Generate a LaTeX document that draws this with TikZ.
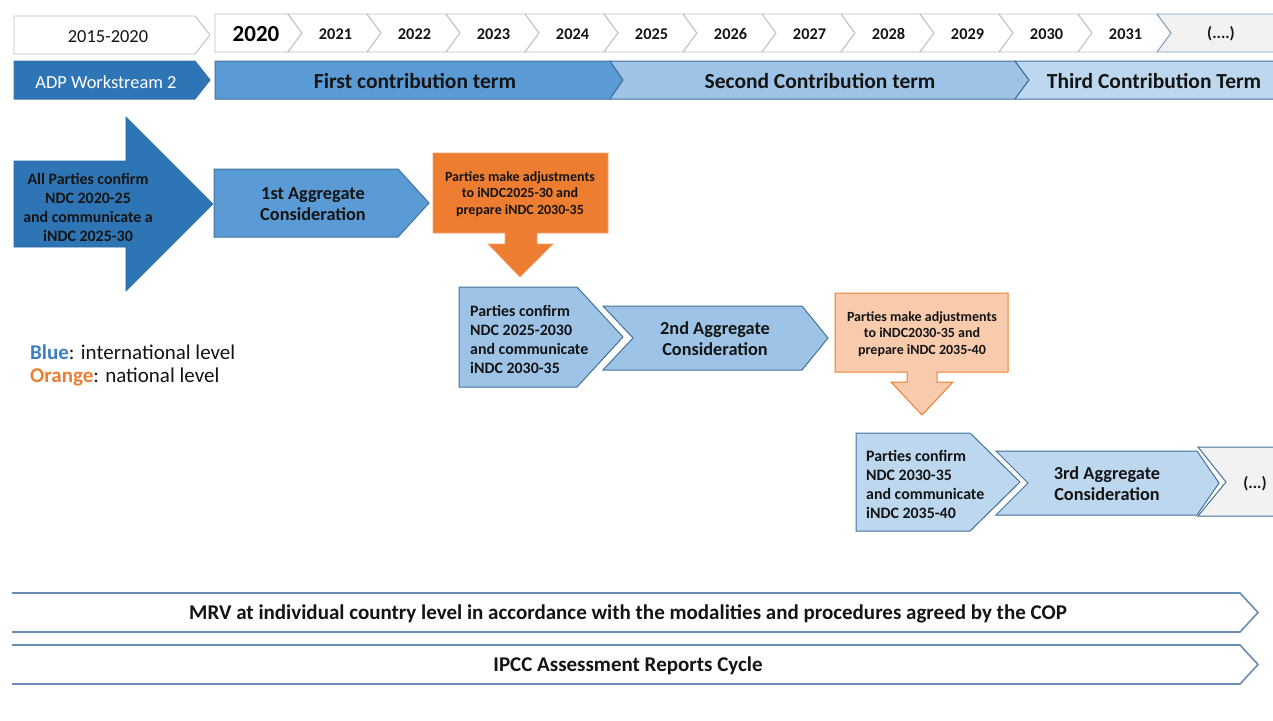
\documentclass[tikz,border=0pt]{standalone}
\usepackage{fontspec}
\setmainfont{Carlito}
\definecolor{dblue}{HTML}{2E75B6}
\definecolor{mblue}{HTML}{5B9BD5}
\definecolor{lblue}{HTML}{9DC3E6}
\definecolor{pblue}{HTML}{BDD7EE}
\definecolor{bline}{HTML}{41719C}
\definecolor{orng}{HTML}{ED7D31}
\definecolor{lorng}{HTML}{F8CBAD}
\definecolor{ygray}{HTML}{BFBFBF}
\definecolor{gfill}{HTML}{F2F2F2}
\definecolor{barline}{HTML}{6A8DB5}
\definecolor{txt}{HTML}{141414}
\definecolor{legblue}{HTML}{3B7EC4}
\tikzset{
  yr/.style={draw=ygray, fill=white, line width=0.9pt, line join=miter},
  yrtxt/.style={font=\fontsize{16.3}{18}\selectfont\bfseries, text=txt, inner sep=0pt},
  term/.style={draw=bline, line width=1pt},
  termtxt/.style={font=\fontsize{21.5}{24}\selectfont\bfseries, text=txt, inner sep=0pt},
  agg/.style={draw=bline, line width=1pt},
  aggtxt/.style={font=\fontsize{18.3}{21}\selectfont\bfseries, text=txt, inner sep=0pt, align=center},
  conf/.style={font=\fontsize{15.9}{19}\selectfont\bfseries, text=txt, inner sep=0pt, align=left},
  ortxt/.style={font=\fontsize{14}{16.5}\selectfont\bfseries, text=txt, inner sep=0pt, align=center},
  bar/.style={draw=barline, line width=1.6pt, fill=white},
  bartxt/.style={font=\fontsize{21}{24}\selectfont\bfseries, text=txt, inner sep=0pt},
  legtxt/.style={font=\fontsize{21}{25}\selectfont, text=txt, inner sep=0pt, align=left, anchor=west}
}
\begin{document}
\begin{tikzpicture}[x=1pt,y=-1pt]
\useasboundingbox (0,0) rectangle (1273,720);
\clip (0,0) rectangle (1273,720);
% ---------- year row
\draw[yr] (14,16) -- (195,16) -- (210,35) -- (195,54) -- (14,54) -- cycle;
\node[font=\fontsize{18.4}{20}\selectfont, text=txt, inner sep=0pt] (y1520) at (108,37) {2015-2020};
\draw[yr] (215,14) -- (288,14) -- (302,33) -- (288,52) -- (215,52) -- cycle;
\node[font=\fontsize{23}{26}\selectfont\bfseries, text=black, inner sep=0pt] (y2020) at (256,34) {2020};
\foreach \k/\yr in {1/2021,2/2022,3/2023,4/2024,5/2025,6/2026,7/2027,8/2028,9/2029,10/2030,11/2031}{
  \pgfmathsetmacro\a{288+79*(\k-1)}
  \pgfmathsetmacro\b{\a+79}
  \draw[yr] (\a,14) -- (\b,14) -- (\b+14,33) -- (\b,52) -- (\a,52) -- (\a+14,33) -- cycle;
  \node[yrtxt] (y\yr) at ({(\a+\b+14)/2+1},34) {\yr};
}
\draw[yr, fill=gfill, draw=bline!70] (1157,14) -- (1290,14) -- (1290,52) -- (1157,52) -- (1171,33) -- cycle;
\node[yrtxt] (ymore) at (1221,34) {(....)};
% ---------- term row
\draw[term, fill=dblue] (14,61) -- (195,61) -- (210,80) -- (195,99) -- (14,99) -- cycle;
\node[font=\fontsize{18.4}{20}\selectfont, text=white, inner sep=0pt] (adp) at (106,82) {ADP Workstream 2};
\draw[term, fill=mblue] (215,61) -- (610,61) -- (623,80) -- (610,99) -- (215,99) -- cycle;
\node[termtxt] (t1) at (415,81) {First contribution term};
\draw[term, fill=lblue] (610,61) -- (1015,61) -- (1029,80) -- (1015,99) -- (610,99) -- (623,80) -- cycle;
\node[termtxt] (t2) at (820,81) {Second Contribution term};
\draw[term, fill=pblue] (1015,61) -- (1290,61) -- (1290,99) -- (1015,99) -- (1029,80) -- cycle;
\node[termtxt] (t3) at (1154,81) {Third Contribution Term};
% ---------- big arrow
\draw[fill=dblue, draw=dblue!90!black, line width=0.6pt] (14,161) -- (126,161) -- (126,117) -- (213,204) -- (126,291) -- (126,247) -- (14,247) -- cycle;
\node[conf, align=center] (all) at (88,207) {All Parties confirm\\NDC 2020-25\\and communicate a\\iNDC 2025-30};
% ---------- 1st aggregate
\draw[agg, fill=mblue] (214,169) -- (398,169) -- (429,203) -- (398,237) -- (214,237) -- cycle;
\node[aggtxt] (agg1) at (313,204) {1st Aggregate\\Consideration};
% ---------- orange 1
\draw[fill=orng, draw=orng!70!white, line width=0.6pt] (433,153) -- (608,153) -- (608,233) -- (537,233) -- (537,244) -- (553,244) -- (520,277) -- (488,244) -- (505,244) -- (505,233) -- (433,233) -- cycle;
\node[ortxt] (or1) at (520,194) {Parties make adjustments\\to iNDC2025-30 and\\prepare iNDC 2030-35};
% ---------- 2nd group
\draw[agg, fill=lblue] (459,287) -- (577,287) -- (623,337) -- (577,387) -- (459,387) -- cycle;
\node[conf, anchor=west] (conf2) at (470,339) {Parties confirm\\NDC 2025-2030\\and communicate\\iNDC 2030-35};
\draw[agg, fill=lblue] (603,306) -- (802,306) -- (828,338) -- (802,370) -- (603,370) -- (633,338) -- cycle;
\node[aggtxt] (agg2) at (715,339) {2nd Aggregate\\Consideration};
% ---------- orange 2
\draw[fill=lorng, draw=orng, line width=1pt] (835,293) -- (1008,293) -- (1008,372) -- (937,372) -- (937,382) -- (953,382) -- (922,415) -- (891,382) -- (907,382) -- (907,372) -- (835,372) -- cycle;
\node[ortxt] (or2) at (922,334) {Parties make adjustments\\to iNDC2030-35 and\\prepare iNDC 2035-40};
% ---------- 3rd group
\draw[agg, fill=pblue] (856,433) -- (970,433) -- (1020,482) -- (970,531) -- (856,531) -- cycle;
\node[conf, anchor=west] (conf3) at (866,484) {Parties confirm\\NDC 2030-35\\and communicate\\iNDC 2035-40};
\draw[agg, fill=pblue] (996,451) -- (1197,451) -- (1219,483) -- (1197,515) -- (996,515) -- (1028,483) -- cycle;
\node[aggtxt] (agg3) at (1107,484) {3rd Aggregate\\Consideration};
\draw[agg, fill=gfill] (1198,447) -- (1290,447) -- (1290,516) -- (1198,516) -- (1226,482) -- cycle;
\node[yrtxt] (more3) at (1255,484) {(...)};
% ---------- legend
\node[legtxt] (leg1) at (30,352) {\textbf{\color{legblue}Blue}: international level};
\node[legtxt] (leg2) at (30,377) {\textbf{\color{orng}Orange}: national level};
% ---------- bottom bars
\draw[bar] (12,593) -- (1240,593) -- (1258,612.5) -- (1240,632) -- (12,632);
\node[bartxt] (mrv) at (628,614) {MRV at individual country level in accordance with the modalities and procedures agreed by the COP};
\draw[bar] (12,645) -- (1240,645) -- (1258,664.5) -- (1240,684) -- (12,684);
\node[bartxt] (ipcc) at (628,666) {IPCC Assessment Reports Cycle};
\end{tikzpicture}
\end{document}
